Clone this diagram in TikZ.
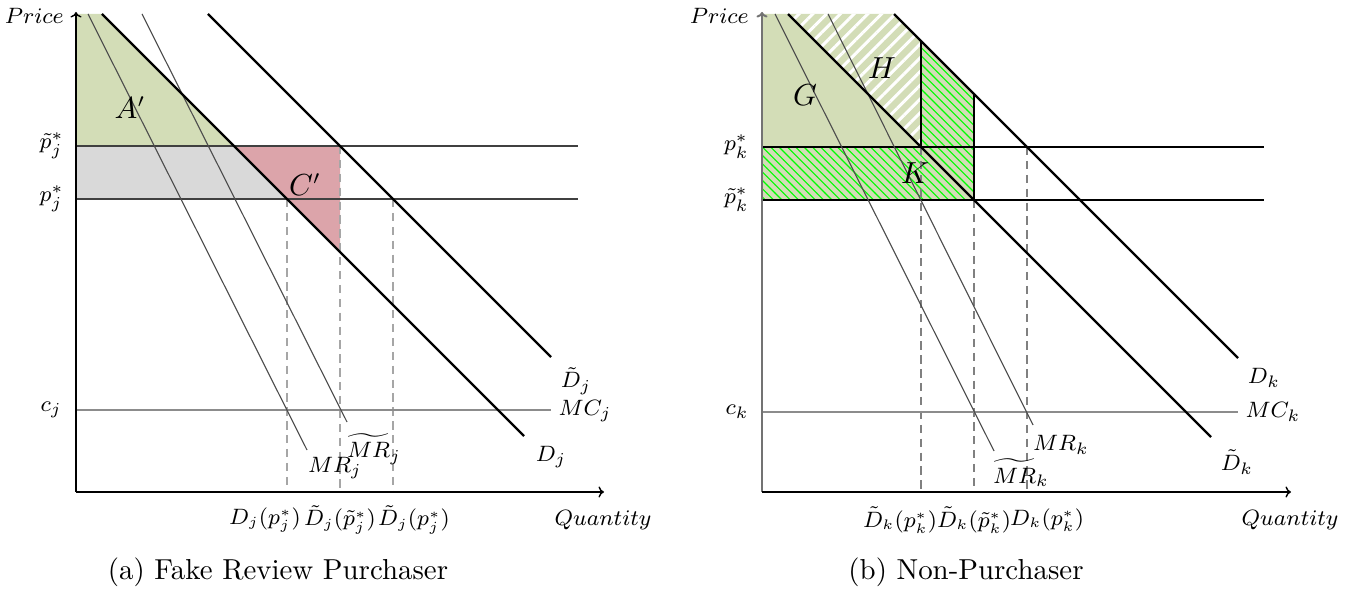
\documentclass[tikz,border=0pt]{standalone}
\usetikzlibrary{patterns,patterns.meta,arrows.meta}
\definecolor{olivefill}{RGB}{211,221,183}
\definecolor{redfill}{RGB}{220,164,170}
\begin{document}
\begin{tikzpicture}[x=0.36pt,y=-0.36pt,
  lbl/.style={font=\fontsize{8}{9.6}\selectfont, inner sep=1pt},
  qlbl/.style={font=\fontsize{7.7}{9}\selectfont, inner sep=0pt},
  big/.style={font=\fontsize{10.5}{12}\selectfont, inner sep=0pt},
  captext/.style={font=\fontsize{10.4}{12}\selectfont, inner sep=0pt},
  demand/.style={line width=0.8pt},
  mr/.style={line width=0.4pt, black!70},
  price/.style={line width=0.5pt},
  mc/.style={line width=0.5pt, black!45},
  guide/.style={line width=0.5pt, dash pattern=on 3pt off 2pt},
  axis/.style={line width=0.5pt, -{To[length=2pt,width=4pt]}},
]
\useasboundingbox (0,0) rectangle (1368,593);

% ================= LEFT PANEL =================
\coordinate (O1) at (76,492);
\coordinate (Y1) at (76,12);
\coordinate (X1) at (604,492);
% fills
\fill[olivefill] (76,14) -- (102,14) -- (234,146) -- (76,146) -- cycle;
\fill[black!15] (76,146) -- (234,146) -- (287,199) -- (76,199) -- cycle;
\fill[redfill] (234,146) -- (340,146) -- (340,252) -- cycle;
% guides
\draw[guide, black!35] (287,199) -- (287,492);
\draw[guide, black!35] (340,146) -- (340,492);
\draw[guide, black!35] (393,199) -- (393,492);
% price lines
\draw[price, black!75] (76,146) -- (578,146);
\draw[price, black!75] (76,199) -- (578,199);
\draw[mc] (76,410) coordinate (mcj0) -- (551,410) coordinate (mcj1);
% MR lines
\draw[mr] (88,14) -- (307,450) coordinate (mrj);
\draw[mr] (142,14) -- (347,422) coordinate (mrtj);
% demand lines
\draw[demand] (102,14) -- (524,436) coordinate (dj);
\draw[demand] (208,14) -- (551,357) coordinate (dtj);
% axes
\draw[axis] (O1) -- (Y1);
\draw[axis] (O1) -- (X1);
% labels
\node[lbl, anchor=east] (pricel) at (67,16) {$Price$};
\node[lbl, anchor=east] (ptj) at (67,146) {$\tilde{p}_j^*$};
\node[lbl, anchor=east] (pj) at (67,199) {$p_j^*$};
\node[lbl, anchor=east] (cj) at (65,410) {$c_j$};
\node[lbl] (qtyl) at (603,520) {$Quantity$};
\node[lbl] (dtjl) at (576,381) {$\tilde{D}_j$};
\node[lbl] (mcjl) at (585,411) {$MC_j$};
\node[lbl] (djl) at (551,457) {$D_j$};
\node[lbl] (mrjl) at (335,468) {$MR_j$};
\node[lbl] (mrtjl) at (374,449) {$\widetilde{MR}_j$};
\node[qlbl] (q1) at (265,520) {$D_j(p_j^*)$};
\node[qlbl] (q2) at (340,520) {$\tilde{D}_j(\tilde{p}_j^*)$};
\node[qlbl] (q3) at (414,520) {$\tilde{D}_j(p_j^*)$};
\node[big] (Al) at (130,108) {$A'$};
\node[big] (Cl) at (305,185) {$C'$};
\node[captext] (capa) at (278,572) {(a) Fake Review Purchaser};

% ================= RIGHT PANEL =================
\coordinate (O2) at (762,492);
\coordinate (Y2) at (762,12);
\coordinate (X2) at (1291,492);
% fills
\fill[olivefill] (762,14) -- (788,14) -- (921,147) -- (762,147) -- cycle;
\fill[olivefill] (788,14) -- (894,14) -- (921,41) -- (921,147) -- cycle;
\fill[pattern={Lines[angle=45,distance=3.5pt,line width=1.1pt]}, pattern color=white]
  (788,14) -- (894,14) -- (921,41) -- (921,147) -- cycle;
\fill[olivefill] (921,41) -- (974,94) -- (974,200) -- (762,200) -- (762,147) -- (921,147) -- cycle;
\fill[pattern=north west lines, pattern color=green]
  (921,41) -- (974,94) -- (974,200) -- (762,200) -- (762,147) -- (921,147) -- cycle;
% guides
\draw[guide, black!50] (921,147) -- (921,492);
\draw[guide, black!50] (974,200) -- (974,492);
\draw[guide, black!50] (1027,147) -- (1027,492);
% region edges
\draw[line width=0.5pt] (921,41) -- (921,147);
\draw[line width=0.5pt] (974,94) -- (974,200);
% price lines
\draw[price] (762,147) -- (1264,147);
\draw[price] (762,200) -- (1264,200);
\draw[mc] (762,412) coordinate (mck0) -- (1238,412) coordinate (mck1);
% MR lines
\draw[mr] (775,14) -- (994,451) coordinate (mrtk);
\draw[mr] (828,14) -- (1033,425) coordinate (mrk);
% demand lines
\draw[demand] (788,14) -- (1211,437) coordinate (dtk);
\draw[demand] (894,14) -- (1238,358) coordinate (dk);
% axes
\draw[axis, black!55, line width=0.7pt] (O2) -- (Y2);
\draw[axis] (O2) -- (X2);
% labels
\node[lbl, anchor=east] (pricer) at (752,16) {$Price$};
\node[lbl, anchor=east] (pk) at (752,147) {$p_k^*$};
\node[lbl, anchor=east] (ptk) at (752,200) {$\tilde{p}_k^*$};
\node[lbl, anchor=east] (ck) at (752,412) {$c_k$};
\node[lbl] (qtyr) at (1290,520) {$Quantity$};
\node[lbl] (dkl) at (1264,378) {$D_k$};
\node[lbl] (mckl) at (1273,412) {$MC_k$};
\node[lbl] (dtkl) at (1237,462) {$\tilde{D}_k$};
\node[lbl] (mrkl) at (1061,445) {$MR_k$};
\node[lbl] (mrtkl) at (1021,473) {$\widetilde{MR}_k$};
\node[qlbl] (r1) at (900,520) {$\tilde{D}_k(p_k^*)$};
\node[qlbl] (r2) at (974,520) {$\tilde{D}_k(\tilde{p}_k^*)$};
\node[qlbl] (r3) at (1047,520) {$D_k(p_k^*)$};
\node[big] (Gl) at (805,95) {$G$};
\node[big] (Hl) at (882,68) {$H$};
\node[big] (Kl) at (915,173) {$K$};
\node[captext] (capb) at (966,572) {(b) Non-Purchaser};
\end{tikzpicture}
\end{document}
